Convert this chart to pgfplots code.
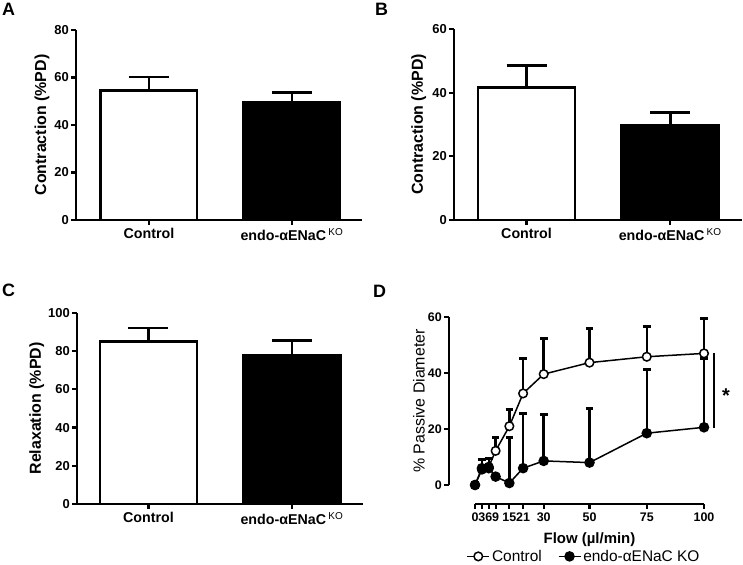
\documentclass[border=0pt]{standalone}
\usepackage{fontspec}
\setmainfont{Liberation Sans}
\usepackage{pgfplots}
\pgfplotsset{compat=1.18}

\pgfplotsset{
  gp/.style={
    scale only axis,
    axis lines*=left,
    axis line style={line width=2.2bp, black},
    tick style={black, line width=2.2bp},
    major tick length=5bp,
    tick align=outside,
    /pgf/number format/assume math mode=true,
    clip=false,
  },
  barpanel/.style={
    gp,
    ymin=0,
    xtick={0,1},
    xticklabels={Control, endo-αENaC\,\textsuperscript{\mdseries KO}},
    xticklabel style={font=\fontsize{14.3}{16}\selectfont\bfseries},
    yticklabel style={font=\fontsize{13}{15}\selectfont\bfseries, inner sep=2bp},
    ylabel style={font=\fontsize{16}{18}\selectfont\bfseries, anchor=center},
  },
  barstyle/.style={ybar, bar width=#1, bar shift=0pt, draw=black, line width=2.7bp,
    error bars/.cd, y dir=plus, y explicit,
    error bar style={line width=2.7bp, black},
    error mark options={rotate=90, mark size=20bp, line width=2.7bp, black}},
}

\begin{document}
\begin{tikzpicture}[x=1bp,y=1bp]
\useasboundingbox (0,0) rectangle (743,565);

% Panel letters
\node[anchor=north west, inner sep=0, font=\fontsize{18}{20}\selectfont\bfseries] at (2,562) {A};
\node[anchor=north west, inner sep=0, font=\fontsize{18}{20}\selectfont\bfseries] at (375,562) {B};
\node[anchor=north west, inner sep=0, font=\fontsize{18}{20}\selectfont\bfseries] at (2,281) {C};
\node[anchor=north west, inner sep=0, font=\fontsize{18}{20}\selectfont\bfseries] at (373,280) {D};

% Panel A
\begin{axis}[barpanel, at={(76bp,345bp)}, anchor=south west,
  width=286bp, height=190bp, xmin=-0.51, xmax=1.49, ymax=80,
  ytick={0,20,40,60,80},
  ylabel={Contraction (\%PD)},
  ylabel style={at={(axis description cs:-0.119,0.5)}}]
\addplot[fill=white, barstyle=0.674] coordinates {(0,54.5) +- (0,5.7)};
\addplot[fill=black, barstyle=0.674] coordinates {(1,49.5) +- (0,4.1)};
\end{axis}

% Panel B
\begin{axis}[barpanel, at={(454bp,345bp)}, anchor=south west,
  width=288bp, height=191bp, xmin=-0.505, xmax=1.50, ymax=60,
  ytick={0,20,40,60},
  ylabel={Contraction (\%PD)},
  ylabel style={at={(axis description cs:-0.122,0.5)}}]
\addplot[fill=white, barstyle=0.676] coordinates {(0,41.7) +- (0,6.8)};
\addplot[fill=black, barstyle=0.676] coordinates {(1,29.7) +- (0,4.1)};
\end{axis}

% Panel C
\begin{axis}[barpanel, at={(77bp,61bp)}, anchor=south west,
  width=286bp, height=191bp, xmin=-0.498, xmax=1.495, ymax=100,
  ytick={0,20,40,60,80,100},
  ylabel={Relaxation (\%PD)},
  ylabel style={at={(axis description cs:-0.141,0.5)}}]
\addplot[fill=white, barstyle=0.676] coordinates {(0,85.1) +- (0,7.0)};
\addplot[fill=black, barstyle=0.676] coordinates {(1,78.0) +- (0,7.7)};
\end{axis}

% Panel D
\begin{axis}[gp, at={(475bp,80bp)}, anchor=south west,
  width=229bp, height=168bp,
  xmin=0, xmax=100, ymin=0, ymax=60,
  axis x line shift=19bp, axis y line shift=26bp,
  xtick={0,3,6,9,15,21,30,50,75,100}, ytick={0,20,40,60},
  ticklabel style={font=\fontsize{12.5}{14}\selectfont\bfseries},
  yticklabel style={inner sep=2bp},
  xlabel={Flow (µl/min)},
  xlabel style={font=\fontsize{15}{17}\selectfont\bfseries, at={(axis description cs:0.5,-0.327)}, anchor=center},
  ylabel={\% Passive Diameter},
  ylabel style={font=\fontsize{16}{18}\selectfont, at={(axis description cs:-0.245,0.5)}, anchor=center},
  legend columns=2,
  legend style={draw=none, fill=none, at={(axis description cs:0.476,-0.425)}, anchor=center,
    font=\fontsize{15.5}{17}\selectfont, inner sep=1bp,
    /tikz/every even column/.append style={column sep=14bp}},
  legend image code/.code={\draw[mark repeat=2, mark phase=2, #1] plot coordinates {(0bp,0bp) (11bp,0bp) (22bp,0bp)};},
]
\addplot[black, line width=1.5bp, mark=*, mark size=4.3bp, mark options={fill=white, line width=1.5bp},
  error bars/.cd, y dir=plus, y explicit,
  error bar style={line width=2.5bp, black},
  error mark options={rotate=90, mark size=3.8bp, line width=3bp, black}]
  table[x=x, y=y, y error=e] {
x y e
0 0 0
3 5.5 0
6 6.5 0
9 12.2 4.8
15 21 5.8
21 32.7 12.3
30 39.6 12.6
50 43.7 12.2
75 45.8 10.7
100 47 12.3
};
\addlegendentry{Control}
\addplot[black, line width=1.5bp, mark=*, mark size=4.5bp, mark options={fill=black},
  error bars/.cd, y dir=plus, y explicit,
  error bar style={line width=2.5bp, black},
  error mark options={rotate=90, mark size=3.8bp, line width=3bp, black}]
  table[x=x, y=y, y error=e] {
x y e
0 0 0
3 6 3
6 6 3.3
9 3 0
15 0.7 16.1
21 6 19.7
30 8.6 16.4
50 8 19.4
75 18.5 22.8
100 20.6 24.4
};
\addlegendentry{endo-αENaC KO}
\draw[line width=2.2bp] (axis cs:104.4,20.4) -- (axis cs:104.4,47.1);
\node[font=\fontsize{20}{20}\selectfont\bfseries] at (axis cs:109.6,31.8) {*};
\end{axis}
\end{tikzpicture}
\end{document}
